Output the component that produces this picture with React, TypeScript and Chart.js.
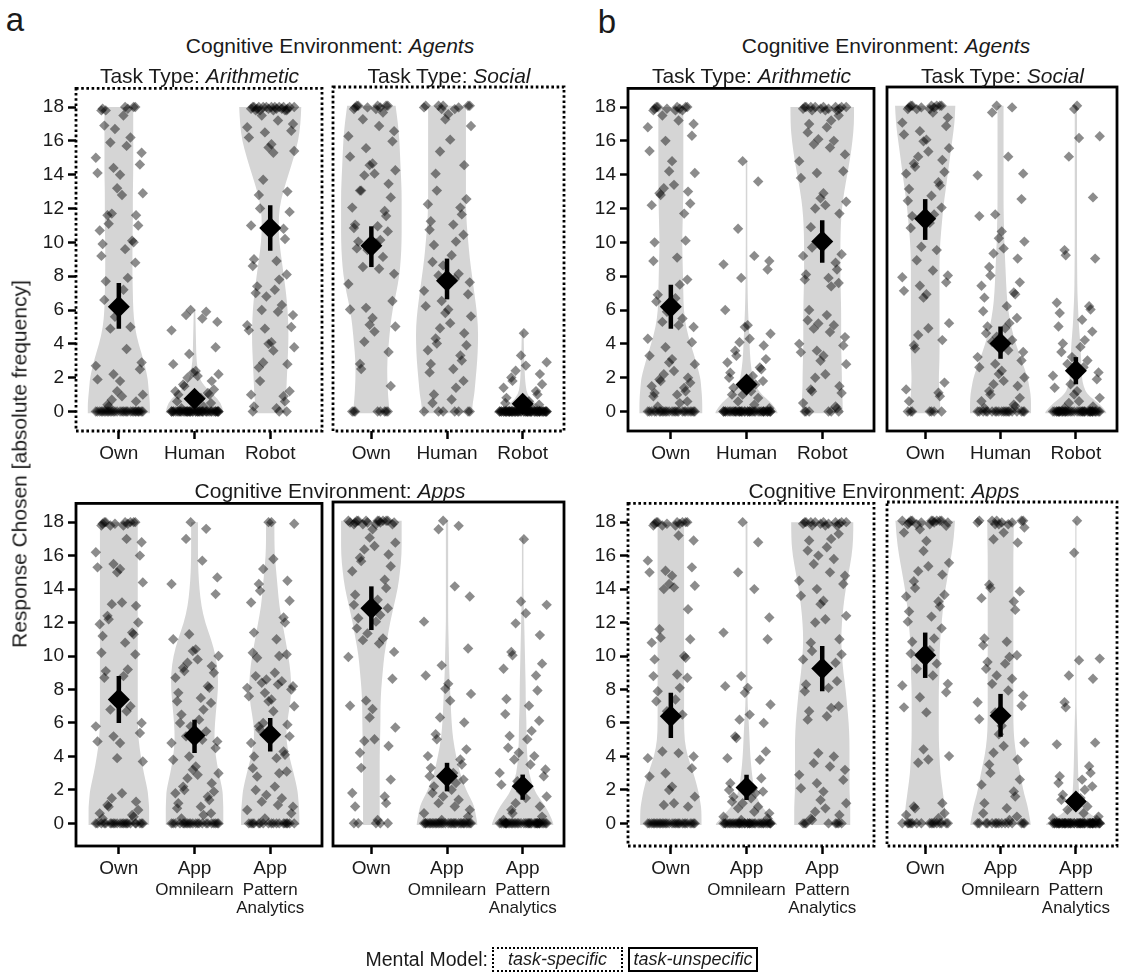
import React, { useEffect, useRef } from 'react';
import { Chart, registerables } from 'chart.js';

Chart.register(...registerables);

const FONT = "'Liberation Sans', Arial, Helvetica, sans-serif";
const INK = '#1a1a1a';

// ---------- axes / categories ----------
const Y_TICKS = [0, 2, 4, 6, 8, 10, 12, 14, 16, 18];
const AGENT_LABELS = [['Own'], ['Human'], ['Robot']];
const APP_LABELS = [['Own'], ['App', 'Omnilearn'], ['App', 'Pattern', 'Analytics']];
// y levels at which the violin half-widths (density profiles) are given
const PROFILE_Y = [0, 0.5, 1, 1.5, 2, 3, 4, 5, 6, 7, 8, 9, 10, 11, 12, 13, 14, 15, 16, 17, 18];
const VIOLIN_LO = -0.1;

// ---------- panel a, Agents, Arithmetic ----------
const A_AG_AR_OWN = [18, 17.9, 18, 17.8, 18, 17.9, 17.8, 17.5, 16.9, 16.7, 16.2, 15.9, 15.7, 15.3, 15, 14.6, 14.4, 14.1, 14, 13.2, 12.9, 12.8, 11.7, 11.6, 11.6, 11.1, 11, 10.7, 10.1, 10, 9.9, 9.6, 9.2, 8.8, 7.9, 7.7, 7.2, 6.6, 5.6, 5, 4.9, 3.7, 2.9, 2.7, 2.5, 2.2, 1.9, 1.8, 1.2, 1, 0.9, 0.7, 0.6, 0.4, 0.3,
  0, 0, 0, 0, 0, 0, 0, 0, 0, 0, 0, 0, 0, 0, 0, 0, 0, 0, 0, 0, 0, 0, 0, 0, 0, 0, 0, 0, 0, 0];
const A_AG_AR_HUMAN = [6, 5.9, 5.7, 5.5, 5.3, 4.8, 3.8, 3.4, 2.8, 2.4, 2.3, 2.2, 2.1, 2, 1.8, 1.6, 1.5, 1.3, 1.2, 1.1, 1, 1, 0.8, 0.6, 0.5, 0.3, 0.2,
  0, 0, 0, 0, 0, 0, 0, 0, 0, 0, 0, 0, 0, 0, 0, 0, 0, 0, 0, 0, 0, 0, 0, 0, 0, 0, 0, 0, 0, 0, 0, 0, 0, 0, 0, 0, 0, 0, 0, 0, 0, 0, 0, 0, 0];
const A_AG_AR_ROBOT = [18, 17.9, 18, 17.8, 18, 17.9, 18, 17.8, 18, 17.9, 18, 17.8, 18, 17.9, 18, 17.8, 18, 17.9, 18, 17.8, 18, 17.9,
  17.5, 17.2, 17, 16.8, 16.6, 16.5, 16.2, 15.8, 15.6, 15.4, 15.3, 13.7, 13, 12.8, 12, 11.8, 11, 10.8, 10.2, 9, 8.9, 8.6, 8.1, 7.8, 7.4, 7.2, 7, 6.8, 6.3, 6, 5.9, 5.7, 5.1, 5, 4.9, 4.8, 4.1, 4, 3.8, 3.6, 2.9, 2.8, 2.6, 1.8, 1.2, 1, 0.9, 0.6, 0.3, 0.2, 0, 0, 0];
const A_AG_AR_MEAN = [6.2, 0.75, 10.85];
const A_AG_AR_LO = [4.9, 0.4, 9.5];
const A_AG_AR_HI = [7.6, 1.1, 12.2];
const A_AG_AR_TOP = [18, 6, 18];
const A_AG_AR_DENS = [
  [0.41, 0.41, 0.4, 0.39, 0.38, 0.33, 0.26, 0.21, 0.19, 0.185, 0.18, 0.18, 0.18, 0.185, 0.185, 0.185, 0.19, 0.19, 0.19, 0.19, 0.19],
  [0.38, 0.35, 0.25, 0.13, 0.06, 0.025, 0.02, 0.015, 0.01],
  [0.2, 0.2, 0.21, 0.215, 0.22, 0.23, 0.24, 0.24, 0.23, 0.21, 0.18, 0.15, 0.12, 0.11, 0.12, 0.17, 0.24, 0.31, 0.37, 0.4, 0.41],
];

// ---------- panel a, Agents, Social ----------
const A_AG_SO_OWN = [18, 17.9, 18, 17.8, 18, 17.9, 18, 17.8, 18, 17.9,
  17.6, 17.2, 16.8, 16.5, 16.2, 15.9, 15.5, 15, 14.6, 14.5, 14.2, 14, 13.9, 13.4, 13, 13, 12.6, 12, 11.8, 11.5, 11, 10.9, 10.8, 10.6, 10.1, 10, 9.9, 9.6, 9.5, 9.1, 8.5, 8.4, 8.1, 7.5, 6.5, 6.1, 6, 5.5, 5.1, 5, 4.7, 4.1, 3.5, 2.8, 2.5, 1.5,
  0, 0, 0, 0, 0, 0, 0, 0];
const A_AG_SO_HUMAN = [18, 17.9, 18, 17.8, 18, 17.9, 18, 17.8, 18,
  17.5, 17.2, 16.8, 16, 15.3, 14.5, 14, 13, 12.5, 12.2, 12, 11.6, 11.2, 11, 10.7, 10.4, 10, 9.8, 9.2, 8.8, 8.6, 8.1, 8, 7.8, 7.6, 7.1, 6.9, 6.5, 6.2, 6, 5.8, 5.6, 5.2, 4.9, 4.6, 4.3, 4, 3.9, 3.6, 3.3, 3, 2.8, 2.5, 2.3, 1.8, 1.4, 1, 0.7, 0.5,
  0, 0, 0, 0, 0, 0, 0];
const A_AG_SO_ROBOT = [4.6, 3.3, 2.9, 2.7, 2.4, 2.2, 2, 1.8, 1.6, 1.4, 1.2, 1, 0.8, 0.6, 0.5, 0.4, 0.2,
  0, 0, 0, 0, 0, 0, 0, 0, 0, 0, 0, 0, 0, 0, 0, 0, 0, 0, 0, 0, 0, 0, 0, 0, 0, 0, 0, 0, 0, 0, 0, 0, 0, 0, 0, 0, 0, 0, 0, 0, 0, 0, 0, 0, 0, 0, 0, 0, 0, 0, 0, 0, 0, 0, 0, 0, 0, 0, 0, 0];
const A_AG_SO_MEAN = [9.75, 7.7, 0.45];
const A_AG_SO_LO = [8.5, 6.6, 0.2];
const A_AG_SO_HI = [10.9, 9.0, 0.75];
const A_AG_SO_TOP = [18, 18, 4.7];
const A_AG_SO_DENS = [
  [0.24, 0.23, 0.22, 0.215, 0.21, 0.21, 0.23, 0.25, 0.28, 0.33, 0.37, 0.39, 0.4, 0.4, 0.4, 0.4, 0.39, 0.38, 0.37, 0.35, 0.32],
  [0.33, 0.34, 0.36, 0.37, 0.38, 0.4, 0.41, 0.41, 0.39, 0.36, 0.33, 0.3, 0.28, 0.26, 0.25, 0.25, 0.25, 0.25, 0.25, 0.25, 0.25],
  [0.38, 0.15, 0.06, 0.04, 0.03, 0.02, 0.015, 0.01],
];

// ---------- panel a, Apps, Arithmetic ----------
const A_AP_AR_OWN = [18, 17.9, 18, 17.8, 18, 17.9, 18, 17.8, 18, 17.9, 18, 17.8,
  17, 16.8, 16.2, 16, 15.5, 15.3, 15.2, 15, 14.4, 13.2, 13.1, 13, 12.4, 12.2, 12, 11.9, 11.4, 11.3, 11.2, 10.8, 10.2, 10.1, 9.2, 9.1, 8.8, 8.7, 7.3, 7, 6.8, 6.7, 6, 5.8, 5.4, 5.2, 4.9, 4.8, 3.9, 3.7, 1.8, 1.5, 1.3, 1.1, 1, 0.8, 0.6, 0.5, 0.4, 0.3,
  0, 0, 0, 0, 0, 0, 0, 0, 0, 0, 0, 0, 0, 0, 0, 0, 0, 0, 0, 0, 0, 0];
const A_AP_AR_OMNI = [18, 17.6, 17, 15.7, 14.7, 14.3, 13.7, 11.3, 11, 10.4, 10.3, 10, 9.8, 9.6, 9.4, 9.3, 9.1, 9, 8.7, 8.2, 8.1, 7.8, 7.5, 7.3, 7.2, 6.8, 6.5, 6.2, 6, 5.8, 5.5, 5.2, 5, 4.9, 4.8, 4.5, 4, 3.8, 3.4, 3.2, 3, 2.9, 2.7, 2.4, 2.2, 2, 1.9, 1.8, 1.6, 1.4, 1.2, 1, 0.9, 0.6, 0.5, 0.3,
  0, 0, 0, 0, 0, 0, 0, 0, 0, 0, 0, 0, 0, 0, 0, 0, 0, 0, 0, 0, 0, 0];
const A_AP_AR_PATTERN = [18, 18, 17.9, 15.8, 15.2, 14.5, 14.3, 13.9, 13.3, 13.2, 12.3, 12, 11.4, 11, 10.2, 10.1, 10, 9.9, 9, 8.8, 8.6, 8.5, 8.4, 8.3, 8.2, 8.1, 8, 7.8, 7.6, 7.4, 7.3, 7, 6.7, 6, 5.9, 5.8, 5.6, 5.2, 4.8, 4.3, 4.1, 4, 3.9, 3.3, 3.1, 3, 2.8, 2.2, 2, 1.7, 1.5, 1.3, 1.1, 1, 0.8, 0.6, 0.3,
  0, 0, 0, 0, 0, 0, 0, 0, 0, 0, 0, 0, 0, 0, 0, 0, 0, 0];
const A_AP_AR_MEAN = [7.4, 5.25, 5.3];
const A_AP_AR_LO = [6.0, 4.2, 4.3];
const A_AP_AR_HI = [8.8, 6.2, 6.3];
const A_AP_AR_TOP = [18, 18, 18];
const A_AP_AR_DENS = [
  [0.4, 0.4, 0.4, 0.39, 0.38, 0.33, 0.29, 0.26, 0.25, 0.25, 0.25, 0.25, 0.25, 0.25, 0.25, 0.25, 0.25, 0.25, 0.25, 0.25, 0.25],
  [0.38, 0.38, 0.38, 0.375, 0.37, 0.32, 0.28, 0.26, 0.27, 0.29, 0.31, 0.31, 0.28, 0.22, 0.14, 0.09, 0.065, 0.05, 0.045, 0.045, 0.045],
  [0.385, 0.385, 0.38, 0.37, 0.36, 0.31, 0.25, 0.21, 0.22, 0.26, 0.28, 0.27, 0.24, 0.2, 0.16, 0.12, 0.1, 0.08, 0.06, 0.055, 0.055],
];

// ---------- panel a, Apps, Social ----------
const A_AP_SO_OWN = [18, 17.9, 18, 17.8, 18, 17.9, 18, 17.8, 18, 17.9, 18, 17.8, 18, 17.9, 18, 17.8, 18, 17.9,
  17.5, 17, 16.7, 16.5, 16.3, 16, 15.8, 15.6, 15.3, 15, 14.5, 14, 13.6, 13.3, 13, 12.8, 12.4, 12.2, 12, 11.6, 11.3, 11, 10.9, 10.7, 10.2, 9.9, 8.6, 7.3, 7, 6.8, 6.3, 5.7, 5, 4.9, 4.6, 4.2, 3.3, 2.6, 1.8, 1.6, 1.2, 1, 0.2,
  0, 0, 0, 0, 0];
const A_AP_SO_OMNI = [18, 17.7, 17.5, 14.1, 13.5, 12, 10.4, 9.4, 8.8, 8.3, 8, 7.7, 7.3, 6.3, 6, 5.3, 5, 4.4, 4, 3.8, 3.5, 3.3, 3, 2.8, 2.6, 2.4, 2.2, 2, 1.8, 1.6, 1.4, 1.2, 1, 0.8, 0.6, 0.4, 0.2,
  0, 0, 0, 0, 0, 0, 0, 0, 0, 0, 0, 0, 0, 0, 0, 0, 0, 0, 0, 0, 0, 0, 0, 0, 0, 0, 0, 0, 0, 0];
const A_AP_SO_PATTERN = [16.9, 13.2, 13, 12.5, 11.9, 11.2, 10.2, 10, 9.5, 9.2, 8.8, 7.9, 7.4, 7, 6.5, 6.1, 5.5, 5.2, 5, 4.5, 4.2, 4, 3.8, 3.5, 3.2, 3, 2.8, 2.5, 2.3, 2.1, 1.9, 1.6, 1.5, 1.2, 1, 0.8, 0.6, 0.4, 0.2,
  0, 0, 0, 0, 0, 0, 0, 0, 0, 0, 0, 0, 0, 0, 0, 0, 0, 0, 0, 0, 0, 0, 0, 0, 0, 0, 0, 0, 0, 0, 0, 0, 0, 0, 0];
const A_AP_SO_MEAN = [12.8, 2.8, 2.2];
const A_AP_SO_LO = [11.5, 1.9, 1.4];
const A_AP_SO_HI = [14.1, 3.6, 2.9];
const A_AP_SO_TOP = [18, 18, 17];
const A_AP_SO_DENS = [
  [0.11, 0.11, 0.11, 0.11, 0.11, 0.11, 0.11, 0.115, 0.12, 0.12, 0.13, 0.15, 0.17, 0.21, 0.25, 0.3, 0.35, 0.38, 0.4, 0.4, 0.4],
  [0.4, 0.38, 0.36, 0.31, 0.25, 0.17, 0.12, 0.08, 0.06, 0.05, 0.04, 0.03, 0.025, 0.02, 0.015, 0.015, 0.015, 0.015, 0.015, 0.015, 0.015],
  [0.405, 0.36, 0.3, 0.22, 0.15, 0.08, 0.06, 0.05, 0.05, 0.04, 0.04, 0.035, 0.03, 0.025, 0.02, 0.015, 0.01, 0.01, 0.01, 0.01],
];

// ---------- panel b, Agents, Arithmetic ----------
const B_AG_AR_OWN = [18, 17.9, 18, 17.8, 18, 17.9, 18, 17.8, 18, 17.9,
  17.8, 17.5, 17.2, 17, 16.8, 16.3, 16, 15.4, 14.8, 14.2, 14.1, 13.4, 13.2, 13, 12.9, 12.8, 12.3, 12.2, 11.7, 10.1, 10, 9.1, 8.9, 7.8, 7.5, 6.9, 6.7, 6.5, 5.9, 5.5, 5.3, 5.1, 5, 4.3, 4.1, 3.8, 3.3, 3.1, 2.9, 2.8, 2.4, 2.2, 2, 1.9, 1.8, 1.7, 1.5, 1.4, 1.2, 1.1, 1, 0.9, 0.6, 0.5, 0.3,
  0, 0, 0, 0, 0, 0, 0, 0, 0, 0, 0, 0, 0, 0, 0, 0, 0, 0, 0, 0, 0, 0, 0, 0, 0];
const B_AG_AR_HUMAN = [14.8, 13.6, 10.8, 9.2, 8.9, 8.7, 8.4, 7.9, 6, 5.1, 5, 4.6, 4.3, 4.1, 3.9, 3.6, 3.3, 3.1, 2.9, 2.6, 2.5, 2.3, 2.1, 2, 1.8, 1.6, 1.4, 1.2, 1, 1, 0.8, 0.6, 0.4, 0.2,
  0, 0, 0, 0, 0, 0, 0, 0, 0, 0, 0, 0, 0, 0, 0, 0, 0, 0, 0, 0, 0, 0, 0, 0, 0, 0, 0, 0, 0, 0, 0, 0, 0, 0, 0, 0, 0, 0, 0, 0];
const B_AG_AR_ROBOT = [18, 17.9, 18, 17.8, 18, 17.9, 18, 17.8, 18, 17.9, 18, 17.8, 18, 17.9, 18,
  17.5, 17.2, 17, 16.8, 16.5, 16.1, 16, 15.8, 15.6, 15.2, 14.8, 14.2, 14.1, 13.8, 12.9, 12.6, 12.4, 12.2, 12, 11.7, 10.9, 9.7, 9.3, 9.2, 8.8, 8.4, 8.1, 7.9, 7.8, 7.6, 7.4, 6, 5.7, 5.4, 5.2, 5.1, 4.9, 4.7, 4.4, 4, 3.9, 3.6, 3.5, 3.3, 3, 2.8, 2.2, 2, 1.5, 1.3, 1.2, 1.1, 0.5, 0.3, 0.2,
  0, 0, 0, 0, 0, 0];
const B_AG_AR_MEAN = [6.2, 1.6, 10.05];
const B_AG_AR_LO = [4.9, 1.15, 8.8];
const B_AG_AR_HI = [7.5, 2.05, 11.3];
const B_AG_AR_TOP = [18, 14.8, 18];
const B_AG_AR_DENS = [
  [0.415, 0.415, 0.41, 0.4, 0.39, 0.33, 0.26, 0.2, 0.17, 0.165, 0.16, 0.155, 0.15, 0.155, 0.16, 0.165, 0.165, 0.165, 0.165, 0.165, 0.165],
  [0.41, 0.33, 0.2, 0.12, 0.08, 0.05, 0.04, 0.03, 0.02, 0.015, 0.012, 0.011, 0.01, 0.01, 0.01, 0.01, 0.01, 0.01],
  [0.27, 0.27, 0.265, 0.26, 0.26, 0.255, 0.25, 0.25, 0.25, 0.245, 0.24, 0.24, 0.24, 0.245, 0.26, 0.29, 0.33, 0.37, 0.4, 0.42, 0.42],
];

// ---------- panel b, Agents, Social ----------
const B_AG_SO_OWN = [18, 17.9, 18, 17.8, 18, 17.9, 18, 17.8, 18, 17.9, 18, 17.8,
  17.6, 17.3, 17, 16.8, 16.5, 16.3, 16, 15.9, 15.5, 15.3, 15, 14.8, 14.6, 14.4, 14.1, 14, 13.5, 13.3, 13.1, 12.7, 12.4, 12, 11.6, 11.5, 11.1, 10.8, 9.7, 9.5, 8.9, 8.3, 8, 7.9, 7.6, 7.4, 7.1, 6.9, 6.7, 5.2, 4.9, 4.5, 4.2, 3.9, 3.7, 1.7, 1.3, 1.1, 0.9, 0.6,
  0, 0, 0, 0, 0, 0, 0];
const B_AG_SO_HUMAN = [18, 17.9, 17.6, 15, 14, 13.9, 12.5, 11.6, 11.5, 10.6, 10.2, 10, 9.6, 9.3, 9, 8.5, 8, 7.6, 7.4, 7, 6.9, 6.7, 6.2, 5.9, 5.5, 5.2, 5, 4.9, 4.6, 4.4, 4.2, 4.1, 3.6, 3.5, 3.2, 3, 2.8, 2.6, 2.4, 2.2, 2, 1.8, 1.6, 1.5, 1.2, 1, 0.8, 0.6, 0.4, 0.3, 0.2,
  0, 0, 0, 0, 0, 0, 0, 0, 0, 0, 0, 0, 0, 0, 0, 0, 0, 0, 0, 0];
const B_AG_SO_ROBOT = [18, 17.8, 16.2, 16.1, 15, 12.6, 9.5, 9.2, 9, 6.4, 6.2, 6, 5.8, 5.4, 5, 4.7, 4.2, 4, 3.8, 3.5, 3.2, 3, 2.8, 2.6, 2.3, 2.1, 1.9, 1.6, 1.4, 1.2, 1, 0.8, 0.6, 0.5, 0.3, 0.2,
  0, 0, 0, 0, 0, 0, 0, 0, 0, 0, 0, 0, 0, 0, 0, 0, 0, 0, 0, 0, 0, 0, 0, 0, 0, 0, 0, 0, 0, 0, 0, 0, 0, 0, 0, 0, 0, 0, 0, 0];
const B_AG_SO_MEAN = [11.35, 4.0, 2.4];
const B_AG_SO_LO = [10.1, 3.1, 1.6];
const B_AG_SO_HI = [12.5, 5.0, 3.2];
const B_AG_SO_TOP = [18, 18, 18];
const B_AG_SO_DENS = [
  [0.2, 0.2, 0.19, 0.185, 0.18, 0.19, 0.19, 0.19, 0.19, 0.19, 0.19, 0.19, 0.2, 0.22, 0.24, 0.27, 0.3, 0.33, 0.36, 0.39, 0.4],
  [0.405, 0.405, 0.4, 0.38, 0.36, 0.28, 0.2, 0.14, 0.1, 0.08, 0.07, 0.06, 0.05, 0.045, 0.04, 0.04, 0.04, 0.04, 0.04, 0.04, 0.04],
  [0.405, 0.3, 0.15, 0.1, 0.08, 0.07, 0.06, 0.04, 0.03, 0.02, 0.018, 0.016, 0.015, 0.015, 0.015, 0.015, 0.015, 0.015, 0.015, 0.015, 0.015],
];

// ---------- panel b, Apps, Arithmetic ----------
const B_AP_AR_OWN = [18, 17.9, 18, 17.8, 18, 17.9, 18, 17.8, 18, 17.9, 18, 17.8,
  17.2, 16.9, 15.7, 15.3, 15.1, 15, 14.8, 14.3, 14.2, 14.1, 14, 12.8, 11.6, 11.1, 11, 10.8, 10, 9.9, 9.8, 8.9, 8.8, 8.7, 8.1, 7.9, 7.4, 7.3, 6.7, 6.5, 4.3, 4.2, 4, 3.9, 3.3, 3, 2.8, 2.2, 2, 1.6, 1.2, 1.1, 1,
  0, 0, 0, 0, 0, 0, 0, 0, 0, 0, 0, 0, 0, 0, 0, 0, 0, 0, 0, 0, 0, 0, 0, 0, 0, 0, 0, 0];
const B_AP_AR_OMNI = [18, 16.8, 15, 14, 12.3, 11.4, 11, 8.8, 8.2, 8.1, 7.8, 7.1, 6.5, 6.2, 6, 5.2, 5.1, 4.3, 3.9, 3.8, 2.7, 2.4, 2.1, 2, 1.9, 1.8, 1.6, 1.5, 1.3, 1.2, 1, 0.9, 0.7, 0.6, 0.4, 0.3, 0.2,
  0, 0, 0, 0, 0, 0, 0, 0, 0, 0, 0, 0, 0, 0, 0, 0, 0, 0, 0, 0, 0, 0, 0, 0, 0, 0, 0, 0, 0, 0, 0, 0, 0, 0, 0];
const B_AP_AR_PATTERN = [18, 17.9, 18, 17.8, 18, 17.9, 18, 17.8, 18, 17.9, 18, 17.8, 18, 17.9, 18,
  17.3, 17, 16.9, 16.5, 16.3, 16, 15.8, 15.5, 15, 14.8, 14.5, 14.3, 14, 13.6, 13.3, 13.1, 12.4, 12.2, 12, 11, 10.8, 10.3, 10.1, 9.8, 9.6, 8.5, 8.3, 8.1, 7.9, 7, 6.9, 6.7, 6.4, 6.2, 4.2, 4, 3.6, 3.4, 3.2, 2.9, 2.6, 2.4, 2.1, 1.9, 1.4, 1.2, 0.9, 0.7, 0.5, 0.3, 0.2,
  0, 0, 0, 0, 0, 0, 0, 0];
const B_AP_AR_MEAN = [6.4, 2.15, 9.25];
const B_AP_AR_LO = [5.1, 1.4, 7.9];
const B_AP_AR_HI = [7.8, 2.9, 10.6];
const B_AP_AR_TOP = [18, 18, 18];
const B_AP_AR_DENS = [
  [0.405, 0.405, 0.4, 0.38, 0.36, 0.3, 0.22, 0.18, 0.175, 0.175, 0.175, 0.175, 0.175, 0.175, 0.175, 0.175, 0.175, 0.175, 0.175, 0.175, 0.175],
  [0.405, 0.3, 0.2, 0.14, 0.1, 0.07, 0.05, 0.04, 0.03, 0.015, 0.012, 0.012, 0.012, 0.012, 0.012, 0.012, 0.012, 0.012, 0.012, 0.012, 0.012],
  [0.37, 0.37, 0.37, 0.365, 0.36, 0.36, 0.36, 0.36, 0.35, 0.33, 0.31, 0.28, 0.26, 0.25, 0.26, 0.28, 0.31, 0.35, 0.39, 0.41, 0.41],
];

// ---------- panel b, Apps, Social ----------
const B_AP_SO_OWN = [18, 17.9, 18, 17.8, 18, 17.9, 18, 17.8, 18, 17.9, 18, 17.8, 18, 17.9, 18,
  17.7, 17.5, 17.3, 16.8, 16.2, 15.5, 15.3, 15, 14.8, 14.4, 14, 13.6, 13.5, 13.2, 12.9, 12.6, 12.3, 12, 11.6, 11, 10.8, 10.3, 10.1, 9.9, 9.5, 9.2, 8.8, 8.3, 8.2, 7.8, 7.5, 6.9, 6.6, 4.4, 4, 3.8, 3.6, 1.2, 1, 0.9, 0.6, 0.5, 0.3,
  0, 0, 0, 0, 0, 0, 0, 0, 0, 0, 0, 0, 0, 0, 0, 0];
const B_AP_SO_OMNI = [18, 17.9, 18, 17.8, 18, 17.9, 18, 17.8, 18, 17.9,
  17.8, 17.6, 17.3, 16.9, 16.7, 14.2, 14, 13.8, 13.4, 13.2, 12.7, 11, 10.8, 10.6, 10, 9.9, 9.6, 9.5, 9.2, 8.8, 8.6, 8.3, 7.9, 7.6, 7.2, 7, 6.6, 6.2, 5.8, 5.3, 4.8, 4.6, 4.2, 3.8, 3.5, 3, 2.6, 2.3, 1.9, 1.6, 1.2, 0.9, 0.6, 0.4, 0.2,
  0, 0, 0, 0, 0, 0, 0, 0, 0, 0, 0, 0, 0, 0, 0];
const B_AP_SO_PATTERN = [18, 16.1, 9.8, 9.7, 8.8, 8.6, 7.2, 6.9, 4.8, 4.7, 3.4, 3, 2.8, 2.6, 2.4, 2.2, 2, 1.7, 1.5, 1.4, 1.2, 1, 0.8, 0.6, 0.4, 0.3, 0.2,
  0, 0, 0, 0, 0, 0, 0, 0, 0, 0, 0, 0, 0, 0, 0, 0, 0, 0, 0, 0, 0, 0, 0, 0, 0, 0, 0, 0, 0, 0, 0, 0, 0, 0, 0, 0, 0, 0, 0, 0, 0, 0, 0, 0, 0, 0, 0, 0, 0, 0];
const B_AP_SO_MEAN = [10.0, 6.4, 1.3];
const B_AP_SO_LO = [8.65, 5.15, 0.85];
const B_AP_SO_HI = [11.35, 7.7, 1.75];
const B_AP_SO_TOP = [18, 18, 18];
const B_AP_SO_DENS = [
  [0.28, 0.27, 0.26, 0.245, 0.23, 0.2, 0.19, 0.18, 0.18, 0.18, 0.18, 0.19, 0.19, 0.2, 0.22, 0.24, 0.27, 0.31, 0.35, 0.38, 0.395],
  [0.4, 0.38, 0.36, 0.33, 0.3, 0.26, 0.21, 0.18, 0.17, 0.17, 0.17, 0.17, 0.17, 0.17, 0.17, 0.17, 0.17, 0.17, 0.17, 0.175, 0.175],
  [0.395, 0.2, 0.08, 0.05, 0.04, 0.03, 0.025, 0.02, 0.015, 0.008, 0.008, 0.008, 0.008, 0.008, 0.008, 0.008, 0.008, 0.008, 0.008, 0.008, 0.008],
];

// ---------- layout / style constants ----------
const JITTER = [0.61, -0.42, 0.13, -0.88, 0.94, -0.16, 0.37, -0.67, 0.8, -0.29, 0.05, -0.95, 0.48, -0.54, 0.26, -0.79, 0.71, -0.07, 0.87, -0.35, 0.19, -0.72, 0.55, -0.47, 0.99, -0.22, 0.32, -0.6, 0.68];
const JIT_AMP = 0.32;
const LEFT_X = [-0.566, 2.684];
const RIGHT_X = [-0.507, 2.546];
const TOP_Y = [-1.15, 19.1];
const BOT_Y = [-1.35, 19.12];
const PAD_L = 60, PAD_T = 14, PAD_R = 10, X_AXIS_H = 90, Y_AXIS_W = 52;
const LABEL_OFFSETS = [23, 44, 62];

const mk = (box, xr, yr, showY, dotted, labels, points, dens, top, mean, lo, hi) =>
  ({ box, xr, yr, showY, dotted, labels, points, dens, top, mean, lo, hi });

const SUBPLOTS = [
  mk([76, 87, 323, 431], LEFT_X, TOP_Y, true, true, AGENT_LABELS, [A_AG_AR_OWN, A_AG_AR_HUMAN, A_AG_AR_ROBOT], A_AG_AR_DENS, A_AG_AR_TOP, A_AG_AR_MEAN, A_AG_AR_LO, A_AG_AR_HI),
  mk([333, 87, 565, 431], RIGHT_X, TOP_Y, false, true, AGENT_LABELS, [A_AG_SO_OWN, A_AG_SO_HUMAN, A_AG_SO_ROBOT], A_AG_SO_DENS, A_AG_SO_TOP, A_AG_SO_MEAN, A_AG_SO_LO, A_AG_SO_HI),
  mk([76, 502, 323, 846], LEFT_X, BOT_Y, true, false, APP_LABELS, [A_AP_AR_OWN, A_AP_AR_OMNI, A_AP_AR_PATTERN], A_AP_AR_DENS, A_AP_AR_TOP, A_AP_AR_MEAN, A_AP_AR_LO, A_AP_AR_HI),
  mk([333, 502, 565, 846], RIGHT_X, BOT_Y, false, false, APP_LABELS, [A_AP_SO_OWN, A_AP_SO_OMNI, A_AP_SO_PATTERN], A_AP_SO_DENS, A_AP_SO_TOP, A_AP_SO_MEAN, A_AP_SO_LO, A_AP_SO_HI),
  mk([628, 87, 875, 431], LEFT_X, TOP_Y, true, false, AGENT_LABELS, [B_AG_AR_OWN, B_AG_AR_HUMAN, B_AG_AR_ROBOT], B_AG_AR_DENS, B_AG_AR_TOP, B_AG_AR_MEAN, B_AG_AR_LO, B_AG_AR_HI),
  mk([887, 87, 1118, 431], RIGHT_X, TOP_Y, false, false, AGENT_LABELS, [B_AG_SO_OWN, B_AG_SO_HUMAN, B_AG_SO_ROBOT], B_AG_SO_DENS, B_AG_SO_TOP, B_AG_SO_MEAN, B_AG_SO_LO, B_AG_SO_HI),
  mk([628, 502, 875, 846], LEFT_X, BOT_Y, true, true, APP_LABELS, [B_AP_AR_OWN, B_AP_AR_OMNI, B_AP_AR_PATTERN], B_AP_AR_DENS, B_AP_AR_TOP, B_AP_AR_MEAN, B_AP_AR_LO, B_AP_AR_HI),
  mk([887, 502, 1118, 846], RIGHT_X, BOT_Y, false, true, APP_LABELS, [B_AP_SO_OWN, B_AP_SO_OMNI, B_AP_SO_PATTERN], B_AP_SO_DENS, B_AP_SO_TOP, B_AP_SO_MEAN, B_AP_SO_LO, B_AP_SO_HI),
];

function widthAt(prof: number[], y: number) {
  if (y <= PROFILE_Y[0]) return prof[0];
  for (let j = 0; j < prof.length - 1; j++) {
    const a = PROFILE_Y[j], b = PROFILE_Y[j + 1];
    if (y >= a && y <= b) return prof[j] + (prof[j + 1] - prof[j]) * (y - a) / (b - a);
  }
  return prof[prof.length - 1];
}

function smoothTo(ctx: CanvasRenderingContext2D, P: number[][]) {
  for (let i = 1; i < P.length - 1; i++) {
    const mx = (P[i][0] + P[i + 1][0]) / 2;
    const my = (P[i][1] + P[i + 1][1]) / 2;
    ctx.quadraticCurveTo(P[i][0], P[i][1], mx, my);
  }
  const e = P[P.length - 1];
  ctx.lineTo(e[0], e[1]);
}

function drawViolin(ctx, xs, ys, c: number, prof: number[], lo: number, hi: number) {
  const samples: number[][] = [[lo, widthAt(prof, lo)]];
  PROFILE_Y.forEach((py, j) => {
    if (py > lo && py < hi && j < prof.length) samples.push([py, prof[j]]);
  });
  samples.push([hi, widthAt(prof, hi)]);
  const right = samples.map(([y, w]) => [xs.getPixelForValue(c + w), ys.getPixelForValue(y)]);
  const left = samples.map(([y, w]) => [xs.getPixelForValue(c - w), ys.getPixelForValue(y)]).reverse();
  ctx.beginPath();
  ctx.moveTo(left[left.length - 1][0], left[left.length - 1][1]);
  ctx.lineTo(right[0][0], right[0][1]);
  smoothTo(ctx, right);
  ctx.lineTo(left[0][0], left[0][1]);
  smoothTo(ctx, left);
  ctx.closePath();
  ctx.fill();
}

function buildConfig(sp) {
  const datasets: any[] = [];
  sp.points.forEach((vals: number[], k: number) => {
    datasets.push({
      type: 'scatter', order: 3,
      data: vals.map((y, i) => ({ x: k + JIT_AMP * JITTER[(i * 7 + k * 5) % JITTER.length], y })),
      pointStyle: 'rectRot', pointRadius: 5.2, pointHoverRadius: 5.2,
      pointBackgroundColor: 'rgba(0,0,0,0.45)', backgroundColor: 'rgba(0,0,0,0.45)',
      pointBorderWidth: 0, borderWidth: 0, showLine: false,
    });
  });
  sp.mean.forEach((_m: number, k: number) => {
    datasets.push({
      type: 'scatter', order: 2,
      data: [{ x: k, y: sp.lo[k] }, { x: k, y: sp.hi[k] }],
      showLine: true, borderColor: '#000', borderWidth: 4.5, pointRadius: 0, pointHoverRadius: 0, fill: false,
    });
  });
  datasets.push({
    type: 'scatter', order: 1,
    data: sp.mean.map((m: number, k: number) => ({ x: k, y: m })),
    pointStyle: 'rectRot', pointRadius: 11, pointHoverRadius: 11,
    pointBackgroundColor: '#000', backgroundColor: '#000', pointBorderWidth: 0, borderWidth: 0, showLine: false,
  });

  const violinPlugin = {
    id: 'violins',
    beforeDatasetsDraw(chart) {
      const { ctx, chartArea: a, scales } = chart;
      ctx.save();
      ctx.beginPath();
      ctx.rect(a.left, a.top, a.right - a.left, a.bottom - a.top);
      ctx.clip();
      ctx.fillStyle = 'rgb(213,213,213)';
      sp.dens.forEach((prof: number[], k: number) => drawViolin(ctx, scales.x, scales.y, k, prof, VIOLIN_LO, sp.top[k]));
      ctx.restore();
    },
    afterDraw(chart) {
      const { ctx, chartArea: a, scales } = chart;
      ctx.save();
      ctx.lineWidth = 2.8;
      ctx.strokeStyle = '#000';
      if (sp.dotted) ctx.setLineDash([2.6, 2.6]);
      ctx.strokeRect(a.left, a.top, a.right - a.left, a.bottom - a.top);
      ctx.setLineDash([]);
      ctx.fillStyle = INK;
      ctx.textAlign = 'center';
      ctx.textBaseline = 'middle';
      sp.labels.forEach((lines: string[], k: number) => {
        const x = scales.x.getPixelForValue(k);
        lines.forEach((txt, j) => {
          ctx.font = `${j === 0 ? 19 : 17}px ${FONT}`;
          ctx.fillText(txt, x, a.bottom + LABEL_OFFSETS[j]);
        });
      });
      ctx.restore();
    },
  };

  const grid = { display: true, drawOnChartArea: false, drawTicks: true, tickLength: 8, tickWidth: 2.5, tickColor: '#000' };
  return {
    type: 'scatter',
    data: { datasets },
    plugins: [violinPlugin],
    options: {
      responsive: false,
      animation: false,
      events: [],
      layout: { padding: { left: sp.showY ? PAD_L - Y_AXIS_W : PAD_L, top: PAD_T, right: PAD_R, bottom: 0 } },
      plugins: { legend: { display: false }, tooltip: { enabled: false } },
      scales: {
        x: {
          type: 'linear', min: sp.xr[0], max: sp.xr[1],
          afterBuildTicks: (s) => { s.ticks = [0, 1, 2].map((v) => ({ value: v })); },
          afterFit: (s) => { s.height = X_AXIS_H; },
          ticks: { display: false },
          grid, border: { display: false },
        },
        y: {
          type: 'linear', display: sp.showY, min: sp.yr[0], max: sp.yr[1],
          afterBuildTicks: (s) => { s.ticks = Y_TICKS.map((v) => ({ value: v })); },
          afterFit: (s) => { s.width = sp.showY ? Y_AXIS_W : 0; },
          ticks: { font: { family: FONT, size: 19 }, color: INK, padding: 4 },
          grid, border: { display: false },
        },
      },
    },
  };
}

function Subplot({ sp }) {
  const ref = useRef<HTMLCanvasElement>(null);
  const [l, t, r, b] = sp.box;
  const w = r - l + PAD_L + PAD_R;
  const h = b - t + PAD_T + X_AXIS_H;
  useEffect(() => {
    const chart = new Chart(ref.current as HTMLCanvasElement, buildConfig(sp) as any);
    return () => chart.destroy();
  }, [sp]);
  return (
    <canvas ref={ref} width={w} height={h}
      style={{ position: 'absolute', left: l - PAD_L, top: t - PAD_T, width: w, height: h }} />
  );
}

function Txt({ x, y, size, children, rotate = false, italic = false }: any) {
  return (
    <div style={{
      position: 'absolute', left: x, top: y, whiteSpace: 'nowrap',
      transform: `translate(-50%,-50%)${rotate ? ' rotate(-90deg)' : ''}`,
      fontFamily: FONT, fontSize: size, lineHeight: 1, color: INK, fontStyle: italic ? 'italic' : 'normal',
    }}>{children}</div>
  );
}

export default function App() {
  return (
    <div style={{ position: 'fixed', left: 0, top: 0, width: 1124, height: 974, overflow: 'hidden', background: '#fff' }}>
      {SUBPLOTS.map((sp, i) => <Subplot key={i} sp={sp} />)}

      <Txt x={15} y={19} size={33}>a</Txt>
      <Txt x={607} y={21} size={33}>b</Txt>

      <Txt x={330} y={45} size={21}>Cognitive Environment: <i>Agents</i></Txt>
      <Txt x={886} y={45} size={21}>Cognitive Environment: <i>Agents</i></Txt>
      <Txt x={330} y={490} size={21}>Cognitive Environment: <i>Apps</i></Txt>
      <Txt x={884} y={490} size={21}>Cognitive Environment: <i>Apps</i></Txt>

      <Txt x={199.5} y={75} size={21}>Task Type: <i>Arithmetic</i></Txt>
      <Txt x={449} y={75} size={21}>Task Type: <i>Social</i></Txt>
      <Txt x={751.5} y={75} size={21}>Task Type: <i>Arithmetic</i></Txt>
      <Txt x={1002.5} y={75} size={21}>Task Type: <i>Social</i></Txt>

      <Txt x={19} y={464} size={21} rotate>Response Chosen [absolute frequency]</Txt>

      <div style={{ position: 'absolute', right: 1124 - 488, top: 960, transform: 'translateY(-50%)', fontFamily: FONT, fontSize: 19.5, lineHeight: 1, color: INK, whiteSpace: 'nowrap' }}>Mental Model:</div>
      <div style={{ position: 'absolute', left: 492, top: 947, width: 131, height: 25, boxSizing: 'border-box', border: '2.5px dotted #000', display: 'flex', alignItems: 'center', justifyContent: 'center', fontFamily: FONT, fontSize: 18, fontStyle: 'italic', color: INK }}>task-specific</div>
      <div style={{ position: 'absolute', left: 628, top: 947, width: 130, height: 25, boxSizing: 'border-box', border: '2.5px solid #000', display: 'flex', alignItems: 'center', justifyContent: 'center', fontFamily: FONT, fontSize: 18, fontStyle: 'italic', color: INK }}>task-unspecific</div>
    </div>
  );
}
